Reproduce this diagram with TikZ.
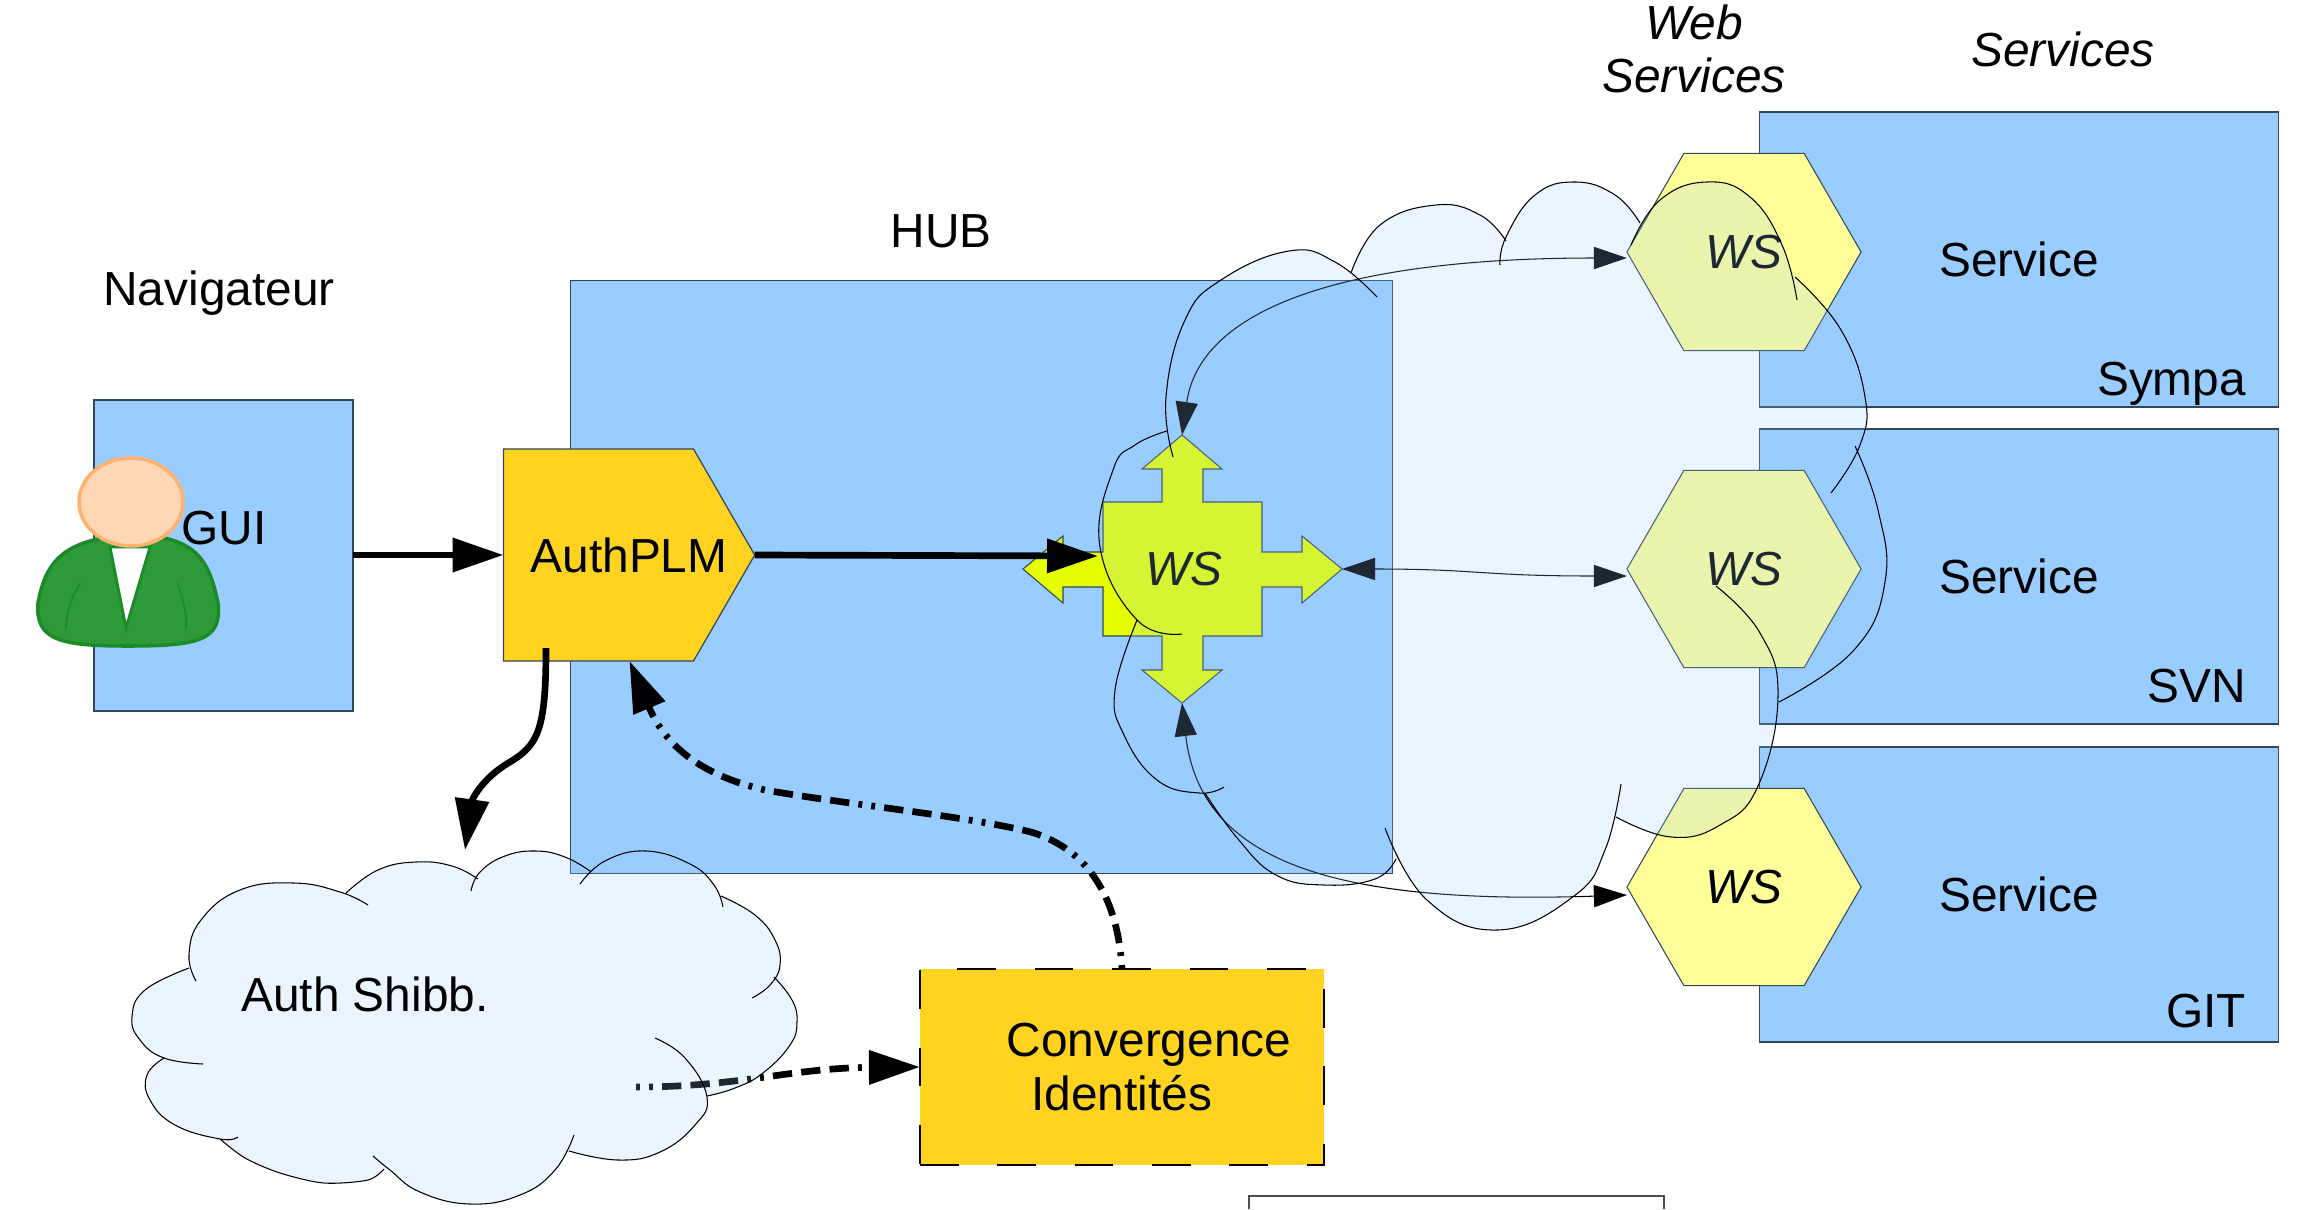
\documentclass[tikz,border=0pt]{standalone}
\usepackage{fontspec}
\setmainfont{Liberation Sans}
\usepackage{tikz}
\usetikzlibrary{arrows.meta}
\usetikzlibrary{shapes.symbols}
\tikzset{every node/.append style = {font = \fontsize{13.6pt}{15pt}\selectfont, inner sep = 0, outer sep = 0}}
\tikzset{box/.style = {draw = mline, line width = 0.35pt, fill = mblue}}
\tikzset{hexa/.style = {draw = mline, line width = 0.3pt, fill = myellow, signal, signal to = east and west, signal pointer angle = 120, minimum width = 2.34cm, minimum height = 1.97cm, font = \fontsize{13.6pt}{15pt}\selectfont\itshape}}
\tikzset{cloudfill/.style = {fill = mblue, fill opacity = 0.2}}
\tikzset{cloudline/.style = {draw = black, line width = 0.3pt}}
\tikzset{lobe/.style = {smooth, tension = 0.75}}
\tikzset{thin arrow/.style = {draw = black, line width = 0.3pt, {Triangle[length = 9.4pt, width = 6.3pt]}-{Triangle[length = 9.4pt, width = 6.3pt]}}}
\tikzset{thick arrow/.style = {draw = black, line width = 1.9pt, -{Triangle[length = 14.5pt, width = 9.4pt]}}}
\tikzset{dots arrow/.style = {thick arrow, dash pattern = on 1.1pt off 2.6pt on 1.1pt off 2.6pt on 5.5pt off 2.6pt on 5.5pt off 2.6pt on 5.5pt off 2.6pt}}
\definecolor{mblue}{HTML}{99CCFF}
\definecolor{mline}{HTML}{33465A}
\definecolor{myellow}{HTML}{FFFF99}
\definecolor{mgold}{HTML}{FFD320}
\definecolor{mlime}{HTML}{E6FF00}
\definecolor{mgreen}{HTML}{2E9939}
\definecolor{mdgreen}{HTML}{1C8A26}
\definecolor{mskin}{HTML}{FFD7B5}
\definecolor{mdskin}{HTML}{FFB26E}
\newcommand{\smallcloud}{
  plot [lobe] coordinates {(196,981) (189,955) (201,920) (240,890) (294,883) (340,892) (368,905)}
  plot [lobe] coordinates {(346,893) (378,870) (416,862) (452,866) (478,879)}
  plot [lobe] coordinates {(471,891) (480,872) (505,856) (536,851) (565,857) (590,871)}
  plot [lobe] coordinates {(580,884) (605,861) (646,851) (690,864) (714,885) (723,907)}
  plot [lobe] coordinates {(721,896) (755,915) (775,940) (780,965) (770,985) (752,998)}
  plot [lobe] coordinates {(774,977) (792,1000) (797,1022) (790,1045) (763,1073) (735,1088) (707,1096)}
  plot [lobe] coordinates {(655,1038) (685,1058) (707,1097) (695,1125) (660,1152) (618,1160) (569,1151)}
  plot [lobe] coordinates {(574,1135) (555,1170) (520,1195) (470,1204) (420,1192) (390,1170) (373,1156)}
  plot [smooth, tension = 0.5] coordinates {(384,1169) (368,1180) (324,1183) (280,1173) (245,1158) (220,1139)}
  plot [lobe] coordinates {(238,1137) (220,1139) (175,1125) (150,1100) (147,1075) (164,1058)}
  plot [lobe] coordinates {(203,1064) (164,1058) (140,1040) (132,1017) (145,990) (189,968)}
}
\newcommand{\bigcloud}{
  plot [lobe] coordinates {(1173,457) (1166,397) (1185,320) (1221,280) (1289,251) (1335,262) (1377,297)}
  plot [lobe] coordinates {(1351,273) (1380,225) (1436,205) (1480,215) (1506,241)}
  plot [lobe] coordinates {(1500,265) (1506,237) (1535,195) (1575,182) (1615,195) (1640,223)}
  plot [lobe] coordinates {(1631,245) (1660,200) (1707,182) (1750,197) (1782,245) (1797,300)}
  plot [lobe] coordinates {(1795,277) (1841,330) (1865,397) (1860,445) (1831,493)}
  plot [lobe] coordinates {(1855,446) (1878,510) (1885,582) (1854,650) (1779,702)}
  plot [lobe] coordinates {(1716,586) (1760,633) (1778,696) (1758,786) (1720,825) (1671,837) (1616,817)}
  plot [lobe] coordinates {(1621,784) (1605,850) (1574,896) (1498,930) (1427,900) (1385,828)}
  plot [lobe] coordinates {(1396,859) (1375,879) (1324,885) (1276,875) (1238,839) (1205,793)}
  plot [lobe] coordinates {(1224,787) (1199,793) (1157,780) (1124,735) (1115,690) (1137,620)}
  plot [lobe] coordinates {(1182,634) (1137,620) (1100,547) (1113,470) (1135,445) (1167,431)}
}
\begin{document}
\begin{tikzpicture}[x = 0.01cm, y = -0.01cm]
  \useasboundingbox (0, 0) rectangle (2309, 1209);

  % boxes
  \node (nav) [box, minimum width = 2.59cm, minimum height = 3.11cm] at (223.5, 555.5) {};
  \node (hub) [box, minimum width = 8.21cm, minimum height = 5.92cm] at (981.5, 577) {};
  \node (svca) [box, minimum width = 5.18cm, minimum height = 2.95cm] at (2019, 259.5) {};
  \node (svcb) [box, minimum width = 5.18cm, minimum height = 2.95cm] at (2019, 576.5) {};
  \node (svcc) [box, minimum width = 5.18cm, minimum height = 2.95cm] at (2019, 894.5) {};

  \node (navlabel) at (219, 293) {Navigateur};
  \node (guilabel) at (224, 528) {GUI};
  \node (hublabel) at (941, 231) {HUB};
  \node (wslabel) [align = center, font = \fontsize{13.6pt}{15pt}\selectfont\itshape] at (1694, 49) {Web\\Services};
  \node (svclabel) [font = \fontsize{13.6pt}{15pt}\selectfont\itshape] at (2063, 49) {Services};
  \node (svctxta) at (2019, 259) {Service};
  \node (svctxtb) at (2019, 576) {Service};
  \node (svctxtc) at (2019, 894) {Service};
  \node (sympa) [anchor = east] at (2246, 384) {Sympa};
  \node (svn) [anchor = east] at (2246, 686) {SVN};
  \node (git) [anchor = east] at (2246, 1011) {GIT};

  % web services
  \node (wsa) [hexa] at (1744, 252) {WS};
  \node (wsb) [hexa] at (1744, 569) {WS};
  \node (wsc) [hexa] at (1744, 887) {WS};

  \coordinate (wsup) at (1182, 435);
  \coordinate (wsdown) at (1182, 703);
  \coordinate (wsright) at (1342, 569);
  \draw [draw = mline, line width = 0.3pt, fill = mlime]
    (1103, 502) -- (1162, 502) -- (1162, 469) -- (1142, 469) -- (wsup) -- (1222, 469) -- (1203, 469) -- (1203, 502)
    -- (1262, 502) -- (1262, 552) -- (1302, 552) -- (1302, 536) -- (wsright) -- (1302, 603) -- (1302, 587) -- (1262, 587)
    -- (1262, 636) -- (1203, 636) -- (1203, 670) -- (1222, 670) -- (wsdown) -- (1142, 670) -- (1162, 670) -- (1162, 636)
    -- (1103, 636) -- (1103, 587) -- (1063, 587) -- (1063, 603) -- (1023, 569) -- (1063, 536) -- (1063, 552) -- (1103, 552) -- cycle;
  \node (wshub) [font = \fontsize{13.6pt}{15pt}\selectfont\itshape] at (1184, 569) {WS};

  \draw [thin arrow] (wsup) .. controls (1200, 310) and (1340, 258) .. ([yshift = -0.06cm] wsa.west);
  \draw [thin arrow] (wsright) .. controls (1480, 569) and (1480, 576) .. ([yshift = -0.07cm] wsb.west);
  \draw [thin arrow] (wsdown) .. controls (1200, 860) and (1330, 905) .. ([yshift = -0.08cm] wsc.west);

  % convergence
  \node (conv) [fill = mgold, draw = black, line width = 0.5pt, dash pattern = on 11pt off 11pt, minimum width = 4.04cm, minimum height = 1.96cm, align = left, font = \fontsize{13.6pt}{15.6pt}\selectfont] at (1122, 1067)
    {\hspace*{15.4pt}Convergence\\\hspace*{22.4pt}Identités};
  \coordinate (shibbout) at (636, 1087);
  \draw [dots arrow] (shibbout) .. controls (740, 1087) and (790, 1068) .. (conv.west);

  % clouds
  \fill [cloudfill] \bigcloud (1221, 280) -- (1353, 273) -- (1506, 241) -- (1640, 223) -- (1797, 277) -- (1855, 446) -- (1779, 702) -- (1616, 817) -- (1396, 859) -- (1205, 793) -- (1137, 620) -- (1100, 547) -- (1167, 431) -- cycle;
  \draw [cloudline] \bigcloud;
  \fill [cloudfill] \smallcloud (240, 890) -- (346, 893) -- (478, 879) -- (590, 871) -- (721, 896) -- (780, 965) -- (797, 1022) -- (707, 1096) -- (569, 1151) -- (384, 1169) -- (220, 1139) -- (164, 1058) -- (189, 968) -- cycle;
  \draw [cloudline] \smallcloud;
  \node (shibb) at (365, 994) {Auth Shibb.};

  % authplm
  \node (auth) [draw = mline, line width = 0.35pt, fill = mgold, signal, signal to = east, signal pointer angle = 120, minimum width = 2.51cm, minimum height = 2.12cm] at (598.5, 555) {};
  \node (authlabel) at (629, 555) {AuthPLM};
  \coordinate (authout) at (546, 648);
  \coordinate (shibbin) at (465, 850);
  \coordinate (wsleft) at (1098, 556);
  \draw [thick arrow] (nav.east |- auth.west) -- (auth.west);
  \draw [thick arrow] (auth.east) -- (wsleft);
  \draw [thick arrow] (authout) .. controls (546, 730) and (538, 745) .. (510, 762) .. controls (482, 778) and (472, 800) .. (shibbin);
  \draw [dots arrow] (conv.north) .. controls (1118, 900) and (1090, 850) .. (1031, 832) .. controls (960, 815) and (850, 805) .. (765, 790) .. controls (700, 775) and (665, 745) .. ([xshift = 0.31cm] auth.south);

  % person
  \draw [draw = mdgreen, line width = 1pt, fill = mgreen]
    (108, 537) .. controls (60, 545) and (45, 565) .. (38, 603) .. controls (35, 640) and (60, 646) .. (128, 646)
    .. controls (200, 646) and (222, 640) .. (218, 603) .. controls (210, 565) and (200, 545) .. (160, 537) -- cycle;
  \draw [draw = mdgreen, line width = 0.8pt, fill = white] (110, 547) -- (126, 628) -- (150, 547) -- cycle;
  \draw [draw = mdgreen, line width = 0.5pt] (80, 583) .. controls (70, 600) and (66, 615) .. (66, 629);
  \draw [draw = mdgreen, line width = 0.5pt] (177, 583) .. controls (184, 600) and (187, 615) .. (186, 629);
  \draw [draw = mdskin, line width = 1pt, fill = mskin] (131, 502) ellipse (52 and 44);

  % cut off box at the bottom
  \draw [draw = black!70, line width = 0.4pt] (1249, 1209) -- (1249, 1196) -- (1664, 1196) -- (1664, 1209);
\end{tikzpicture}
\end{document}
